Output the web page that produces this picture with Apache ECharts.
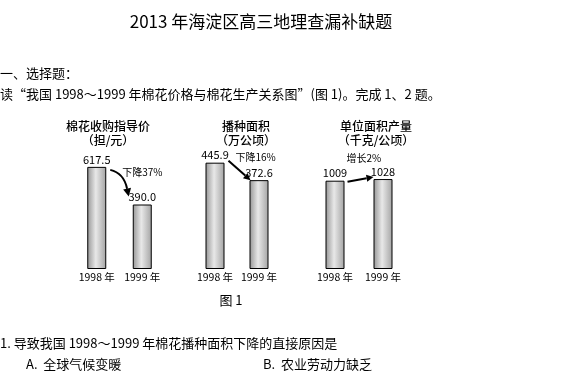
<!DOCTYPE html>
<html><head><meta charset="utf-8">
<script src="https://cdn.jsdelivr.net/npm/echarts@6/dist/echarts.min.js"></script>
<style>html,body{margin:0;padding:0;background:#fff}#c{width:567px;height:374px}</style>
</head><body><div id="c"></div>
<script>
const categories = ['1998 年', '1999 年'];
const priceValues = [617.5, 390.0];
const areaValues = [445.9, 372.6];
const yieldValues = [1009, 1028];
const valueDecimals = [1, 1, 0];
const chartTitles = ['棉花收购指导价', '播种面积', '单位面积产量'];
const chartUnits = ['（担/元）', '（万公顷）', '（千克/公顷）'];
const changeLabels = ['下降37%', '下降16%', '增长2%'];

const FONT = '"Noto Sans CJK SC", "Noto Sans", sans-serif';
const allValues = [priceValues, areaValues, yieldValues];
const grids = [
  {left: 74, width: 91, top: 140, height: 129},
  {left: 193, width: 88, top: 140, height: 129},
  {left: 311, width: 96, top: 140, height: 129}
];
const yMax = [780, 541, 1474];
const barW = 19;

const chart = echarts.init(document.getElementById('c'), null, {renderer: 'canvas'});
const option = {
  backgroundColor: '#fff',
  animation: false,
  grid: grids,
  xAxis: grids.map((g, i) => ({
    type: 'category', gridIndex: i, data: categories,
    axisLine: {show: false}, axisTick: {show: false},
    axisLabel: {fontSize: 10.5, color: '#000', margin: 3, fontFamily: FONT, interval: 0, hideOverlap: false}
  })),
  yAxis: grids.map((g, i) => ({
    type: 'value', gridIndex: i, min: 0, max: yMax[i], show: false, splitLine: {show: false}
  })),
  series: allValues.map((vals, i) => ({
    type: 'bar', xAxisIndex: i, yAxisIndex: i, data: vals, barWidth: barW,
    itemStyle: {
      color: new echarts.graphic.LinearGradient(0, 0, 1, 0, [
        {offset: 0, color: '#959595'}, {offset: 0.45, color: '#e8e8e8'}, {offset: 1, color: '#a3a3a3'}
      ]),
      borderColor: '#000', borderWidth: 1
    },
    label: {
      show: true, position: 'top', distance: 2, fontSize: 11, color: '#000', fontFamily: FONT,
      formatter: p => p.value.toFixed(valueDecimals[i])
    }
  }))
};
chart.setOption(option);

function txt(x, y, text, size, align, weight) {
  return {type: 'text', x: x, y: y, silent: true, style: {
    text: text, fill: '#000', align: align || 'left', verticalAlign: 'middle',
    font: (weight || 'normal') + ' ' + size + 'px ' + FONT
  }};
}
function arrow(x1, y1, x2, y2, cx, cy, head, lw) {
  let dx = x2 - cx, dy = y2 - cy;
  const L = Math.sqrt(dx * dx + dy * dy); dx /= L; dy /= L;
  const bx = x2 - dx * head, by = y2 - dy * head;
  const px = -dy * head * 0.5, py = dx * head * 0.5;
  return [
    {type: 'bezierCurve', silent: true, shape: {x1: x1, y1: y1, x2: bx, y2: by, cpx1: cx, cpy1: cy},
     style: {stroke: '#000', lineWidth: lw, fill: null}},
    {type: 'polygon', silent: true, shape: {points: [[x2, y2], [bx + px, by + py], [bx - px, by - py]]},
     style: {fill: '#000'}}
  ];
}

const els = [
  txt(261, 22, '2013 年海淀区高三地理查漏补缺题', 17, 'center'),
  txt(0, 73, '一、选择题：', 13),
  txt(0, 94, '读“我国 1998～1999 年棉花价格与棉花生产关系图”(图 1)。完成 1、2 题。', 13),
  txt(231, 300, '图 1', 13, 'center'),
  txt(0, 343, '1. 导致我国 1998～1999 年棉花播种面积下降的直接原因是', 13),
  txt(26, 364, 'A.  全球气候变暖', 13),
  txt(263, 364, 'B.  农业劳动力缺乏', 13)
];
const titleX = [108, 246, 376];
chartTitles.forEach((t, i) => {
  els.push(txt(titleX[i], 126, t, 12, 'center', '500'));
  els.push(txt(titleX[i], 140, chartUnits[i], 12, 'center', '500'));
});

// bar pixel geometry from the axes
const geo = allValues.map((vals, i) => vals.map((v, k) => {
  const p = chart.convertToPixel({seriesIndex: i}, [k, v]);
  return {l: p[0] - barW / 2, r: p[0] + barW / 2, t: p[1]};
}));
// chart 1: curved arrow
{
  const a = geo[0][0], b = geo[0][1];
  const x1 = a.r + 4, y1 = a.t + 3, x2 = b.l - 4, y2 = b.t - 8;
  els.push(...arrow(x1, y1, x2, y2, x2 - 5, y1 + 3, 8, 2));
  els.push(txt(a.r + 16, a.t + 5, changeLabels[0], 10));
}
// chart 2
{
  const a = geo[1][0], b = geo[1][1];
  const x1 = a.r + 4, y1 = a.t - 2, x2 = b.l + 1, y2 = b.t;
  els.push(...arrow(x1, y1, x2, y2, (x1 + x2) / 2, (y1 + y2) / 2, 7, 2));
  els.push(txt(a.r + 11, a.t - 5, changeLabels[1], 10));
}
// chart 3
{
  const a = geo[2][0], b = geo[2][1];
  const x1 = a.r + 3, y1 = a.t + 1, x2 = b.l, y2 = b.t - 2;
  els.push(...arrow(x1, y1, x2, y2, (x1 + x2) / 2, (y1 + y2) / 2, 7, 2));
  els.push(txt(a.r + 2, a.t - 22, changeLabels[2], 10));
}
chart.setOption({graphic: els});
</script></body></html>
